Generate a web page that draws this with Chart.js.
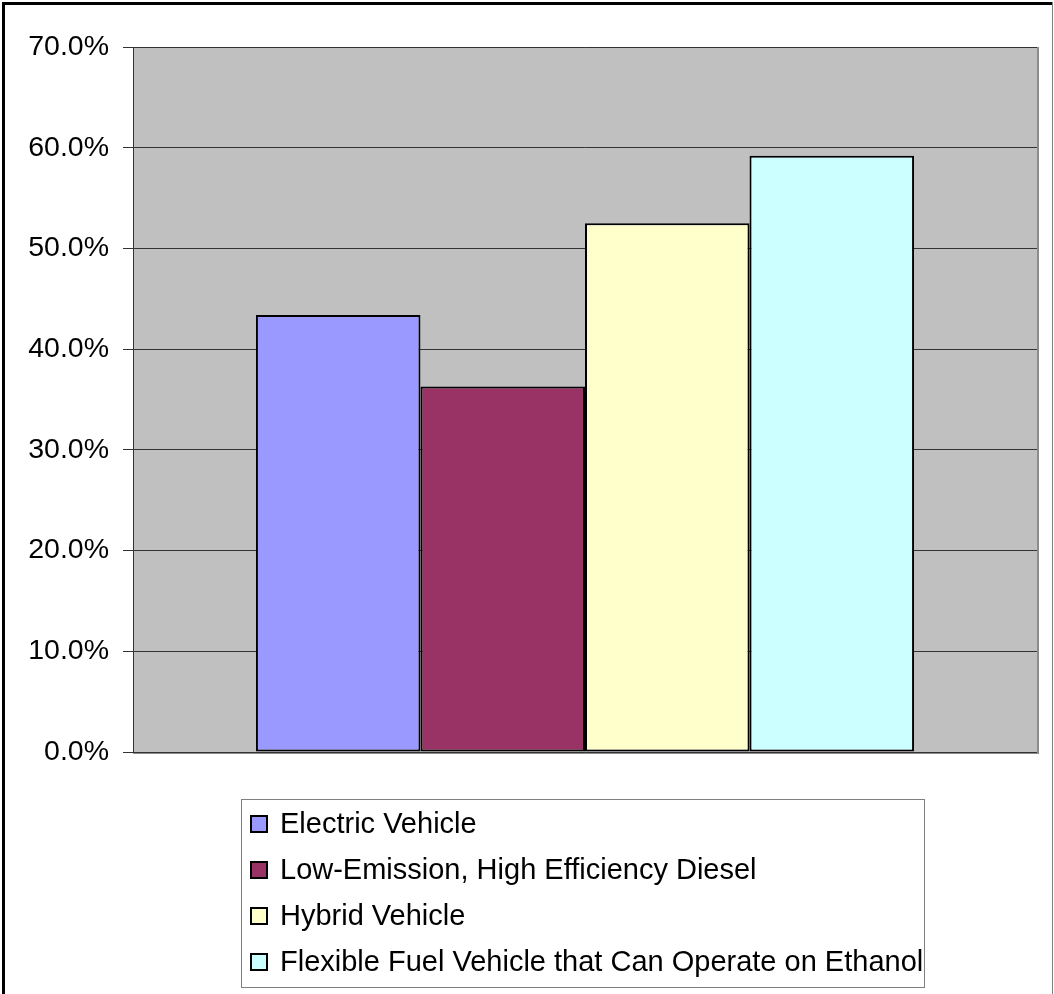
<!DOCTYPE html>
<html>
<head>
<meta charset="utf-8">
<script src="https://cdn.jsdelivr.net/npm/chart.js@4/dist/chart.umd.min.js"></script>
<style>
  html, body { margin: 0; padding: 0; background: #fff; }
  canvas { display: block; }
</style>
</head>
<body>
<canvas id="grafico" width="1054" height="994"></canvas>
<script>
const categorias = [""];
const series = [
  "Electric Vehicle",
  "Low-Emission, High Efficiency Diesel",
  "Hybrid Vehicle",
  "Flexible Fuel Vehicle that Can Operate on Ethanol"
];
const valores = [43.4, 36.3, 52.5, 59.2];
const cores = ["#9999FF", "#993366", "#FFFFCC", "#CCFFFF"];
const ticksY = [0, 10, 20, 30, 40, 50, 60, 70];

const fonte = "Arial, 'Liberation Sans', sans-serif";

// fundo cinza da area do grafico + moldura
const fundoPlot = {
  id: "fundoPlot",
  beforeDraw(chart) {
    const { ctx, chartArea: a } = chart;
    ctx.save();
    ctx.fillStyle = "#C0C0C0";
    ctx.fillRect(a.left, a.top, a.right - a.left, a.bottom - a.top);
    ctx.strokeStyle = "#808080";
    ctx.lineWidth = 1;
    ctx.strokeRect(a.left + 0.5, a.top + 0.5, a.right - a.left, a.bottom - a.top);
    ctx.fillStyle = "#8c8c8c";
    ctx.fillRect(a.right, a.top, 2, a.bottom - a.top + 2);
    ctx.fillRect(a.left, a.bottom, a.right - a.left + 2, 2);
    ctx.restore();
  },
  afterDraw(chart) {
    const { ctx } = chart;
    ctx.save();
    // moldura externa
    ctx.fillStyle = "#000";
    ctx.fillRect(2, 2, 1050, 3);
    ctx.fillRect(2, 2, 3, 992);
    ctx.fillStyle = "#808080";
    ctx.fillRect(1052, 2, 1, 992);

    // legenda
    const bx = 241, by = 799, bw = 683, bh = 188;
    ctx.strokeStyle = "#808080";
    ctx.lineWidth = 1;
    ctx.strokeRect(bx + 0.5, by + 0.5, bw, bh);
    ctx.font = "29px " + fonte;
    ctx.textBaseline = "middle";
    ctx.textAlign = "left";
    chart.data.datasets.forEach((ds, i) => {
      const cy = 824 + i * 46;
      ctx.fillStyle = ds.backgroundColor;
      ctx.fillRect(251, cy - 8, 16, 16);
      ctx.strokeStyle = "#000";
      ctx.lineWidth = 2;
      ctx.strokeRect(251, cy - 8, 16, 16);
      ctx.fillStyle = "#000";
      ctx.fillText(ds.label, 280, cy + 1);
    });
    ctx.restore();
  }
};

new Chart(document.getElementById("grafico"), {
  type: "bar",
  data: {
    labels: categorias,
    datasets: series.map((nome, i) => ({
      label: nome,
      data: [valores[i]],
      backgroundColor: cores[i],
      borderColor: "#000",
      borderWidth: 2,
      borderSkipped: false,
      categoryPercentage: 0.728,
      barPercentage: 1
    }))
  },
  options: {
    responsive: false,
    animation: false,
    layout: { padding: { top: 47, right: 17, bottom: 242, left: 0 } },
    plugins: {
      legend: { display: false },
      tooltip: { enabled: false }
    },
    scales: {
      x: { display: false },
      y: {
        min: 0,
        max: 70,
        afterFit(scale) { scale.width = 133; },
        afterBuildTicks(scale) { scale.ticks = ticksY.map(v => ({ value: v })); },
        ticks: {
          padding: 14,
          color: "#000",
          font: { family: fonte, size: 28.5 },
          callback: v => v.toFixed(1) + "%"
        },
        grid: {
          color: "#333",
          lineWidth: 1,
          tickLength: 10,
          drawTicks: true
        },
        border: { color: "#333", width: 1 }
      }
    }
  },
  plugins: [fundoPlot]
});
</script>
</body>
</html>
